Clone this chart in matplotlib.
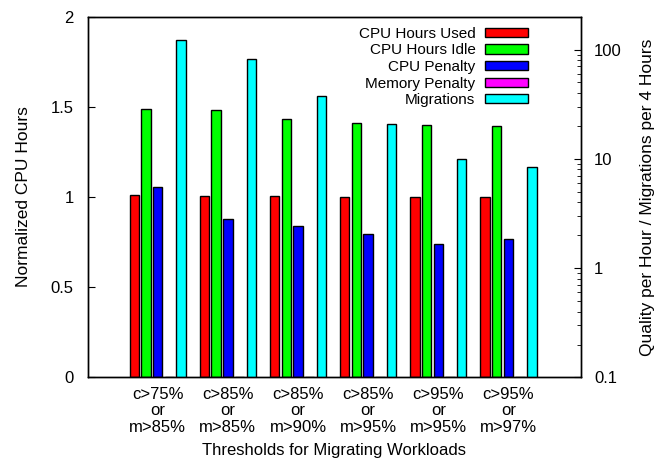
import numpy as np
import matplotlib
matplotlib.use('Agg')
import matplotlib.pyplot as plt
from matplotlib.ticker import FixedLocator, LogLocator, NullFormatter

plt.rcParams['font.family'] = ['Liberation Sans', 'DejaVu Sans']

# data
groups = ["c>75%\nor\nm>85%", "c>85%\nor\nm>85%", "c>85%\nor\nm>90%",
          "c>85%\nor\nm>95%", "c>95%\nor\nm>95%", "c>95%\nor\nm>97%"]
cpu_used = [1.01, 1.006, 1.005, 1.0, 1.0, 1.0]
cpu_idle = [1.487, 1.483, 1.435, 1.411, 1.402, 1.394]
cpu_penalty = [1.054, 0.879, 0.842, 0.796, 0.741, 0.768]
mem_penalty = [0, 0, 0, 0, 0, 0]
migrations = [122.7, 81.7, 37.2, 20.9, 9.8, 8.33]

fig = plt.figure(figsize=(6.63, 4.62), dpi=100)
ax = fig.add_axes([0.132, 0.183, 0.745, 0.781])
ax2 = ax.twinx()

x = np.arange(len(groups))
slot = 1 / 6.0
w = 0.8 * slot
ekw = dict(edgecolor='black', linewidth=1.0)

h1 = ax.bar(x - 2 * slot, cpu_used, w, color='#ff0000', label='CPU Hours Used', **ekw)
h2 = ax.bar(x - slot, cpu_idle, w, color='#00ff00', label='CPU Hours Idle', **ekw)
h3 = ax.bar(x, cpu_penalty, w, color='#0000ff', label='CPU Penalty', **ekw)
h4 = ax.bar(x + slot, mem_penalty, w, color='#ff00ff', label='Memory Penalty', **ekw)
h5 = ax2.bar(x + 2 * slot, migrations, w, bottom=0.1, color='#00ffff', label='Migrations', **ekw)

ax.set_xlim(-1.0, 6.04)
ax.set_ylim(0, 2)
ax.set_yticks([0, 0.5, 1, 1.5, 2])
ax.set_yticklabels(['0', '0.5', '1', '1.5', '2'])
ax.set_xticks(x)
ax.set_xticklabels(groups, fontsize=12, linespacing=1.1)
ax.tick_params(axis='x', length=0, pad=7)
ax.tick_params(axis='y', direction='in', length=5, labelsize=12, pad=10)

ax2.set_yscale('log')
ax2.set_ylim(0.1, 200)
ax2.yaxis.set_major_locator(FixedLocator([0.1, 1, 10, 100]))
ax2.set_yticklabels(['0.1', '1', '10', '100'])
ax2.yaxis.set_minor_locator(LogLocator(base=10, subs=np.arange(2, 10)))
ax2.yaxis.set_minor_formatter(NullFormatter())
ax2.tick_params(axis='y', which='major', direction='in', length=5, labelsize=12, pad=9)
ax2.tick_params(axis='y', which='minor', direction='in', length=3)

for a in (ax, ax2):
    for s in a.spines.values():
        s.set_linewidth(1.0)

ax.set_ylabel('Normalized CPU Hours', fontsize=12.5, labelpad=14)
ax2.set_ylabel('Quality per Hour / Migrations per 4 Hours', fontsize=12.5, labelpad=13)
ax.set_xlabel('Thresholds for Migrating Workloads', fontsize=12, labelpad=6)

leg = ax2.legend(handles=[h1, h2, h3, h4, h5], loc='upper right', frameon=False,
                 markerfirst=False, fontsize=11, handlelength=2.8, handleheight=0.55,
                 labelspacing=0.17, handletextpad=0.65, borderaxespad=0, borderpad=0,
                 bbox_to_anchor=(0.892, 0.972))

fig.savefig('out.png', dpi=100)
